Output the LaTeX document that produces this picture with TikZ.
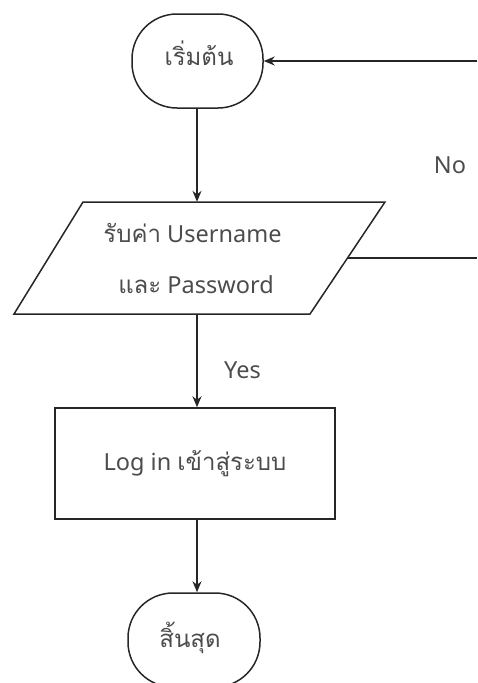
\documentclass[tikz,border=0pt]{standalone}
\usepackage{fontspec}
\newfontfamily\thai[Script=Thai]{Loma}
\newfontfamily\latin{Noto Sans}
\usetikzlibrary{arrows.meta,calc}
\newcommand{\thtxt}[1]{{\thai\fontsize{24}{30}\selectfont #1}}
\newcommand{\latxt}[1]{{\latin\fontsize{23.5}{30}\selectfont #1}}
\tikzset{
  flowline/.style={line width=1.5pt, draw=black!85},
  arrowline/.style={flowline, -{Stealth[length=11pt,width=9pt]}},
  terminal/.style={draw=black!85, line width=1.5pt, rounded corners=45pt,
    minimum width=131pt, minimum height=94pt, inner sep=0pt},
  procbox/.style={draw=black!85, line width=1.5pt, minimum width=280pt,
    minimum height=111pt, inner sep=0pt},
  label/.style={text=black!70, inner sep=0pt, anchor=base},
}
\begin{document}
\begin{tikzpicture}[x=1pt,y=-1pt]
  \useasboundingbox (0,0) rectangle (477,683);
  \clip (0,0) rectangle (477,683);

  % start terminal
  \node[terminal] (start) at (197.5,61) {};
  \node[label] (starttxt) at (199,65) {\thtxt{เริ่มต้น}};

  % input parallelogram
  \coordinate (ptl) at (83,202);
  \coordinate (ptr) at (385,202);
  \coordinate (pbr) at (310,314);
  \coordinate (pbl) at (14,314);
  \draw[flowline, line join=miter] (ptl) -- (ptr) -- (pbr) -- (pbl) -- cycle;
  \coordinate (pright) at ($ (ptr)!0.5!(pbr) $);
  \node[minimum width=200pt, minimum height=112pt, inner sep=0pt] (inp) at (197,258) {};
  \node[label] (inptxt1) at (192.5,242) {\thtxt{รับค่า}\latxt{ Username}};
  \node[label] (inptxt2) at (196,293) {\thtxt{และ}\latxt{ Password}};

  % process box
  \node[procbox] (login) at (195,463.5) {};
  \node[label] (logintxt) at (195,470) {\latxt{Log in }\thtxt{เข้าสู่ระบบ}};

  % end terminal
  \node[terminal, minimum width=132pt] (stop) at (194,640) {};
  \node[label] (stoptxt) at (190,647) {\thtxt{สิ้นสุด}};

  % connectors
  \draw[arrowline] (start.south -| inp.north) -- (inp.north);
  \draw[arrowline] (inp.south) -- (inp.south |- login.north);
  \draw[arrowline] (inp.south |- login.south) -- (inp.south |- stop.north);

  % retry path back to start
  \coordinate (rtop) at (477,61);
  \coordinate (rbot) at (477,258);
  \draw[flowline] (pright) -- (rbot);
  \draw[arrowline] (rtop) -- (start.east);

  \node[label] (no) at (450,173) {\latxt{No}};
  \node[label] (yes) at (242.5,378) {\latxt{Yes}};
\end{tikzpicture}
\end{document}
